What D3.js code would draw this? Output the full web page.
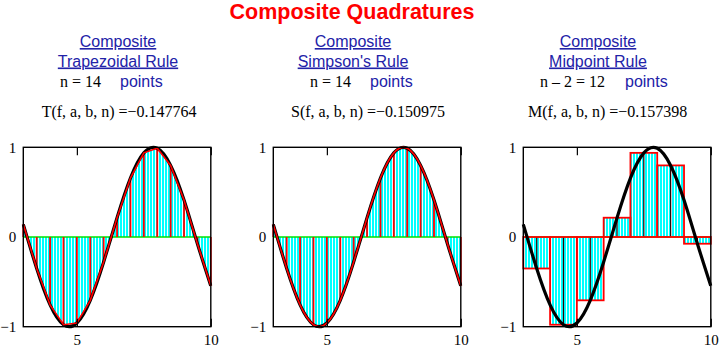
<!DOCTYPE html>
<html>
<head>
<meta charset="utf-8">
<script src="https://cdn.jsdelivr.net/npm/d3@7"></script>
<style>
  body { margin: 0; background: #fff; }
  svg text { font-family: "Liberation Sans", Arial, sans-serif; }
  .serif { font-family: "Liberation Serif", "Times New Roman", serif; }
</style>
</head>
<body>
<svg id="chart" width="720" height="348"></svg>
<script>
// nodes of the composite rules, h = 0.5 on [3, 10]
var xNodes = [3, 3.5, 4, 4.5, 5, 5.5, 6, 6.5, 7, 7.5, 8, 8.5, 9, 9.5, 10];
var fNodes = [0.141, -0.351, -0.757, -0.978, -0.959, -0.706, -0.279, 0.215,
              0.657, 0.938, 0.989, 0.798, 0.412, -0.075, -0.544];

// midpoint rule, h = 1
var midEdges = [3, 4, 5, 6, 7, 8, 9, 10];
var midX = [3.5, 4.5, 5.5, 6.5, 7.5, 8.5, 9.5];
var midF = [-0.351, -0.978, -0.706, 0.215, 0.938, 0.798, -0.075];

var xTicks = [5, 10];
var yTicks = [-1, 0, 1];

var titles = ["Trapezoidal Rule", "Simpson's Rule", "Midpoint Rule"];
var nText = ["n = 14", "n = 14", "n \u2013 2 = 12"];
var results = ["T(f, a, b, n) =\u22120.147764", "S(f, a, b, n) =\u22120.150975", "M(f, a, b, n) =\u22120.157398"];

var svg = d3.select("#chart");

// cyan hatching like the mathcad fill
var defs = svg.append("defs");
var pat = defs.append("pattern")
    .attr("id", "hatch")
    .attr("patternUnits", "userSpaceOnUse")
    .attr("width", 3).attr("height", 20);
pat.append("rect").attr("width", 3).attr("height", 20).attr("fill", "#f4ffff");
pat.append("rect").attr("width", 2).attr("height", 20).attr("fill", "#00ffff");

svg.append("text")
    .attr("x", 352).attr("y", 19)
    .attr("text-anchor", "middle")
    .attr("fill", "#ff0000")
    .style("font-weight", "bold")
    .style("font-size", "21.5px")
    .text("Composite Quadratures");

var panels = [
  {left: 23.3, head: 118, nx: 60, px: 120, rx: 41.7},
  {left: 273.3, head: 353, nx: 310, px: 370, rx: 291},
  {left: 523.3, head: 598, nx: 540, px: 625, rx: 528}
];
var plotTop = 147.3, plotBottom = 326.7, w = 187.5;
var blue = "#2222a8";

panels.forEach(function(p, i) {
  var x = d3.scaleLinear().domain([3, 10]).range([p.left, p.left + w]);
  var y = d3.scaleLinear().domain([-1, 1]).range([plotBottom, plotTop]);
  var g = svg.append("g");

  // headings
  g.append("text").attr("x", p.head).attr("y", 47)
      .attr("text-anchor", "middle").attr("fill", blue)
      .style("font-size", "16px").style("text-decoration", "underline")
      .text("Composite");
  g.append("text").attr("x", p.head).attr("y", 66.5)
      .attr("text-anchor", "middle").attr("fill", blue)
      .style("font-size", "16px").style("text-decoration", "underline")
      .text(titles[i]);
  g.append("text").attr("class", "serif").attr("x", p.nx).attr("y", 87)
      .style("font-size", "16px").text(nText[i]);
  g.append("text").attr("x", p.px).attr("y", 87).attr("fill", blue)
      .style("font-size", "16px").text("points");
  g.append("text").attr("class", "serif").attr("x", p.rx).attr("y", 117)
      .style("font-size", "16px").text(results[i]);

  var pts = xNodes.map(function(d, k) { return [d, fNodes[k]]; });
  var curve = d3.line()
      .x(function(d) { return x(d[0]); })
      .y(function(d) { return y(d[1]); })
      .curve(d3.curveNatural);

  if (i < 2) {
    var area = d3.area()
        .x(function(d) { return x(d[0]); })
        .y0(y(0))
        .y1(function(d) { return y(d[1]); })
        .curve(i == 0 ? d3.curveLinear : d3.curveNatural);
    g.append("path").attr("d", area(pts)).attr("fill", "url(#hatch)");
    g.append("line")
        .attr("x1", x(3)).attr("x2", x(10)).attr("y1", y(0)).attr("y2", y(0))
        .attr("stroke", "#00e000").attr("stroke-width", 1.5);
    g.selectAll(".stem").data(pts).enter().append("line")
        .attr("x1", function(d) { return x(d[0]); })
        .attr("x2", function(d) { return x(d[0]); })
        .attr("y1", y(0))
        .attr("y2", function(d) { return y(d[1]); })
        .attr("stroke", "#ff0000").attr("stroke-width", 1.8);
    g.append("path").attr("d", curve(pts))
        .attr("fill", "none").attr("stroke", "#000").attr("stroke-width", 3.2);
    var approx = d3.line()
        .x(function(d) { return x(d[0]); })
        .y(function(d) { return y(d[1]); })
        .curve(i == 0 ? d3.curveLinear : d3.curveNatural);
    g.append("path").attr("d", approx(pts))
        .attr("fill", "none").attr("stroke", "#ff0000").attr("stroke-width", 1.6);
  } else {
    var rects = midX.map(function(d, k) { return {x0: midEdges[k], x1: midEdges[k + 1], xm: d, v: midF[k]}; });
    g.selectAll(".bar").data(rects).enter().append("rect")
        .attr("x", function(d) { return x(d.x0); })
        .attr("width", function(d) { return x(d.x1) - x(d.x0); })
        .attr("y", function(d) { return Math.min(y(d.v), y(0)); })
        .attr("height", function(d) { return Math.abs(y(d.v) - y(0)); })
        .attr("fill", "url(#hatch)");
    g.append("line")
        .attr("x1", x(3)).attr("x2", x(10)).attr("y1", y(0)).attr("y2", y(0))
        .attr("stroke", "#00e000").attr("stroke-width", 1.5);
    g.selectAll(".mstem").data(rects).enter().append("line")
        .attr("x1", function(d) { return x(d.xm); })
        .attr("x2", function(d) { return x(d.xm); })
        .attr("y1", y(0))
        .attr("y2", function(d) { return y(d.v); })
        .attr("stroke", "#300000").attr("stroke-width", 1.2);
    g.selectAll(".bar2").data(rects).enter().append("rect")
        .attr("x", function(d) { return x(d.x0); })
        .attr("width", function(d) { return x(d.x1) - x(d.x0); })
        .attr("y", function(d) { return Math.min(y(d.v), y(0)); })
        .attr("height", function(d) { return Math.abs(y(d.v) - y(0)); })
        .attr("fill", "none").attr("stroke", "#ff0000").attr("stroke-width", 1.8);
    g.append("path").attr("d", curve(pts))
        .attr("fill", "none").attr("stroke", "#000").attr("stroke-width", 3.2);
  }

  // frame and ticks
  g.append("rect").attr("x", p.left).attr("y", plotTop)
      .attr("width", w).attr("height", plotBottom - plotTop)
      .attr("fill", "none").attr("stroke", "#000").attr("stroke-width", 1.4);

  var axB = g.append("g").attr("transform", "translate(0," + plotBottom + ")")
      .call(d3.axisBottom(x).tickValues(xTicks).tickSize(-8).tickPadding(8)
        .tickFormat(d3.format("d")));
  var axT = g.append("g").attr("transform", "translate(0," + plotTop + ")")
      .call(d3.axisTop(x).tickValues(xTicks).tickSize(-8).tickFormat(""));
  [axB, axT].forEach(function(a) {
    a.select(".domain").remove();
    a.selectAll("line").attr("stroke", "#000").attr("stroke-width", 1.2);
  });
  axB.selectAll("text").attr("class", "serif")
      .style("font-size", "15px").attr("fill", "#000");

  var axL = g.append("g").attr("transform", "translate(" + p.left + ",0)")
      .call(d3.axisLeft(y).tickValues(yTicks).tickSize(0).tickPadding(7)
        .tickFormat(function(d) { return d < 0 ? "\u2212" + Math.abs(d) : d; }));
  axL.select(".domain").remove();
  axL.selectAll("text").attr("class", "serif")
      .style("font-size", "15px").attr("fill", "#000");
});
</script>
</body>
</html>
